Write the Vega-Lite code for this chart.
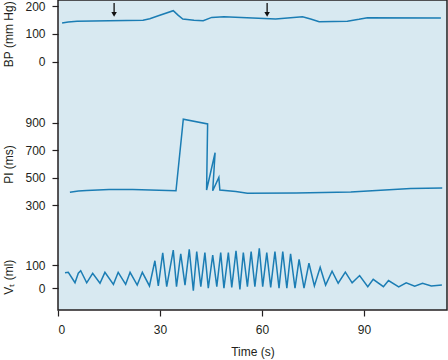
{
  "$schema": "https://vega.github.io/schema/vega-lite/v6.json",
  "width": 389,
  "height": 310,
  "autosize": {"type": "none"},
  "padding": {"left": 58, "top": 0, "right": 1, "bottom": 50},
  "background": "white",
  "config": {
    "view": {"fill": "#d8e9f1", "stroke": "#231f20", "strokeWidth": 1.5},
    "font": "Liberation Sans",
    "axis": {
      "domain": false,
      "grid": false,
      "ticks": true,
      "tickColor": "#231f20",
      "tickSize": 6,
      "tickWidth": 1.2,
      "labelFont": "Liberation Sans",
      "labelFontSize": 12,
      "labelColor": "#231f20",
      "labelPadding": 7,
      "titleFont": "Liberation Sans",
      "titleFontSize": 12,
      "titleFontWeight": "normal",
      "titleColor": "#231f20"
    }
  },
  "datasets": {
    "bp": [
      {"t": 1.2, "bp": 139}, {"t": 3.0, "bp": 142}, {"t": 5.6, "bp": 145}, {"t": 15, "bp": 147}, {"t": 25, "bp": 149},
      {"t": 27.0, "bp": 154}, {"t": 29.5, "bp": 165}, {"t": 33.9, "bp": 183}, {"t": 35.3, "bp": 167}, {"t": 36.7, "bp": 153}, {"t": 40, "bp": 149}, {"t": 42.7, "bp": 147},
      {"t": 45.2, "bp": 159}, {"t": 48.8, "bp": 161}, {"t": 64.0, "bp": 153}, {"t": 71.9, "bp": 161},
      {"t": 74.3, "bp": 153}, {"t": 76.8, "bp": 143}, {"t": 85.1, "bp": 145}, {"t": 88.5, "bp": 152}, {"t": 91.0, "bp": 158},
      {"t": 112.6, "bp": 157}
    ],
    "arrows": [{"t": 16.5, "top": 211, "bot": 175, "head": 170}, {"t": 61.5, "top": 211, "bot": 175, "head": 170}],
    "pi": [
      {"t": 3.5, "pi": 394}, {"t": 6, "pi": 403}, {"t": 8.4, "pi": 408}, {"t": 15, "pi": 414}, {"t": 22, "pi": 415},
      {"t": 34.7, "pi": 405}, {"t": 36.85, "pi": 925}, {"t": 44.0, "pi": 891}, {"t": 43.7, "pi": 411},
      {"t": 46.2, "pi": 682}, {"t": 45.5, "pi": 406}, {"t": 47.3, "pi": 503}, {"t": 47.6, "pi": 411},
      {"t": 52.3, "pi": 400}, {"t": 55.7, "pi": 388}, {"t": 70, "pi": 390}, {"t": 86.1, "pi": 396},
      {"t": 94.9, "pi": 410}, {"t": 103.7, "pi": 422}, {"t": 113, "pi": 425}
    ],
    "vt": [
      {"t": 2.06, "vt": 67}, {"t": 3.03, "vt": 69}, {"t": 5.0, "vt": 23}, {"t": 5.97, "vt": 65},
      {"t": 6.68, "vt": 76}, {"t": 8.44, "vt": 23}, {"t": 10.2, "vt": 65}, {"t": 12.35, "vt": 21},
      {"t": 13.8, "vt": 69}, {"t": 16.3, "vt": 16}, {"t": 17.7, "vt": 69}, {"t": 19.9, "vt": 16},
      {"t": 21.2, "vt": 69}, {"t": 23.3, "vt": 13}, {"t": 24.8, "vt": 69}, {"t": 26.9, "vt": 9},
      {"t": 28.5, "vt": 120}, {"t": 29.5, "vt": 9}, {"t": 30.8, "vt": 155}, {"t": 31.97, "vt": 6},
      {"t": 33.9, "vt": 167}, {"t": 34.85, "vt": 6}, {"t": 36.1, "vt": 150}, {"t": 37.35, "vt": 13},
      {"t": 38.6, "vt": 170}, {"t": 39.8, "vt": -12}, {"t": 40.8, "vt": 160}, {"t": 42.0, "vt": 6},
      {"t": 43.2, "vt": 156}, {"t": 44.2, "vt": -1}, {"t": 45.5, "vt": 145}, {"t": 46.7, "vt": 6},
      {"t": 47.85, "vt": 156}, {"t": 48.8, "vt": -1}, {"t": 50.1, "vt": 156}, {"t": 51.1, "vt": 3},
      {"t": 52.35, "vt": 164}, {"t": 53.5, "vt": -6}, {"t": 54.5, "vt": 156}, {"t": 55.7, "vt": 6},
      {"t": 56.8, "vt": 160}, {"t": 57.9, "vt": 6}, {"t": 59.2, "vt": 175}, {"t": 60.2, "vt": 6},
      {"t": 61.4, "vt": 156}, {"t": 62.55, "vt": 3}, {"t": 63.8, "vt": 160}, {"t": 65.0, "vt": -1},
      {"t": 66.1, "vt": 160}, {"t": 67.3, "vt": -1}, {"t": 68.4, "vt": 150}, {"t": 69.7, "vt": -1},
      {"t": 70.9, "vt": 126}, {"t": 72.35, "vt": -1}, {"t": 73.8, "vt": 109}, {"t": 75.4, "vt": 9},
      {"t": 77.1, "vt": 91}, {"t": 78.7, "vt": 13}, {"t": 80.6, "vt": 74}, {"t": 82.4, "vt": 21},
      {"t": 84.5, "vt": 70}, {"t": 86.5, "vt": 23}, {"t": 88.7, "vt": 55}, {"t": 91.1, "vt": 6},
      {"t": 92.7, "vt": 38}, {"t": 95.7, "vt": 6}, {"t": 97.2, "vt": 33}, {"t": 100.2, "vt": 5},
      {"t": 102.4, "vt": 23}, {"t": 104.9, "vt": 8}, {"t": 107.2, "vt": 21}, {"t": 109.8, "vt": 9},
      {"t": 112.9, "vt": 13}
    ]
  },
  "layer": [
    {
      "data": {"name": "bp"},
      "mark": {"type": "line", "color": "#1b7db4", "strokeWidth": 1.5},
      "encoding": {
        "x": {"field": "t", "type": "quantitative", "scale": {"domain": [0, 114.4], "nice": false, "zero": false},
              "axis": {"values": [0, 30, 60, 90], "title": "Time (s)", "labelPadding": 8, "titlePadding": 11}},
        "y": {"field": "bp", "type": "quantitative",
              "scale": {"domain": [0, 200], "range": [61.5, 6], "nice": false, "zero": false},
              "axis": {"orient": "left", "values": [0, 100, 200], "title": "BP (mm Hg)", "titlePadding": 9}}
      }
    },
    {
      "data": {"name": "arrows"},
      "mark": {"type": "rule", "color": "#111111", "strokeWidth": 1.3},
      "encoding": {
        "x": {"field": "t", "type": "quantitative"},
        "y": {"field": "top", "type": "quantitative", "scale": {"domain": [0, 200], "range": [61.5, 6], "nice": false, "zero": false}, "axis": null},
        "y2": {"field": "bot"}
      }
    },
    {
      "data": {"name": "arrows"},
      "mark": {"type": "point", "shape": "triangle-down", "filled": true, "color": "#111111", "size": 30, "opacity": 1},
      "encoding": {
        "x": {"field": "t", "type": "quantitative"},
        "y": {"field": "head", "type": "quantitative", "scale": {"domain": [0, 200], "range": [61.5, 6], "nice": false, "zero": false}, "axis": null}
      }
    },
    {
      "data": {"name": "pi"},
      "mark": {"type": "line", "color": "#1b7db4", "strokeWidth": 1.5},
      "encoding": {
        "x": {"field": "t", "type": "quantitative"},
        "y": {"field": "pi", "type": "quantitative",
              "scale": {"domain": [300, 900], "range": [205.3, 122.7], "nice": false, "zero": false},
              "axis": {"orient": "left", "values": [300, 500, 700, 900], "title": "PI (ms)", "titlePadding": 9}},
        "order": {"value": null}
      }
    },
    {
      "data": {"name": "vt"},
      "mark": {"type": "line", "color": "#1b7db4", "strokeWidth": 1.5},
      "encoding": {
        "x": {"field": "t", "type": "quantitative"},
        "y": {"field": "vt", "type": "quantitative",
              "scale": {"domain": [0, 100], "range": [288, 265.3], "nice": false, "zero": false},
              "axis": {"orient": "left", "values": [0, 100], "title": "Vₜ (ml)", "titlePadding": 9}}
      }
    }
  ],
  "resolve": {"scale": {"y": "independent"}, "axis": {"y": "independent"}}
}
